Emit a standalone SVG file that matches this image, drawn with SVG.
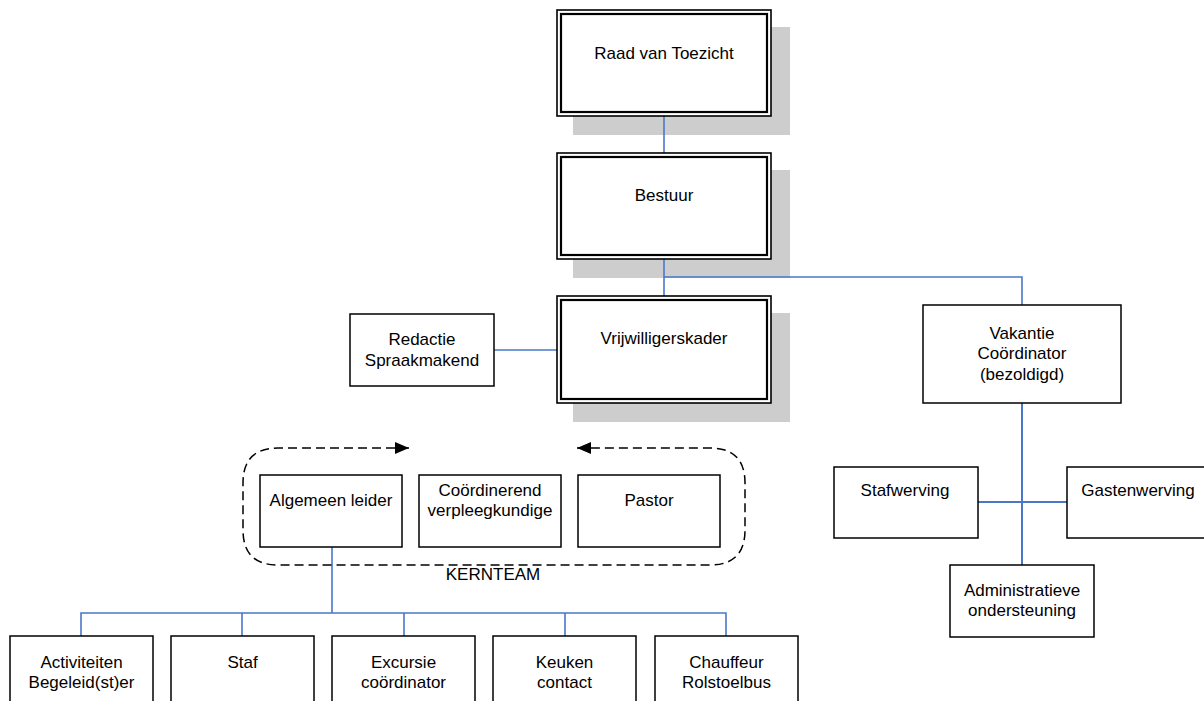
<svg xmlns="http://www.w3.org/2000/svg" width="1204" height="701" viewBox="0 0 1204 701">
<defs>
<style>
.sh{fill:#cdcdcd;stroke:none}
.o{fill:#fff;stroke:#000;stroke-width:1.6}
.i{fill:#fff;stroke:#000;stroke-width:2.2}
.b{fill:#fff;stroke:#000;stroke-width:1.5}
.t{font-family:"Liberation Sans",Arial,sans-serif;font-size:17px;fill:#000;text-anchor:middle}
.c{fill:none;stroke:#4a77c8;stroke-width:1.6}
.d{fill:none;stroke:#000;stroke-width:1.5;stroke-dasharray:9 5}
</style>
<marker id="ah" viewBox="0 0 14 12" refX="14" refY="6" markerWidth="14" markerHeight="12" markerUnits="userSpaceOnUse" orient="auto-start-reverse">
<path d="M0,0 L14,6 L0,12 z" fill="#000"/>
</marker>
</defs>
<rect width="1204" height="701" fill="#fff"/>

<g id="shadows">
<rect class="sh" x="573" y="27" width="217" height="108"/>
<rect class="sh" x="573" y="170" width="217" height="108"/>
<rect class="sh" x="573" y="313" width="217" height="109"/>
</g>

<g id="connectors">
<path class="c" d="M664 116 V153"/>
<path class="c" d="M664 259 V296"/>
<path class="c" d="M664 277 H1022 V305"/>
<path class="c" d="M494 350 H557"/>
<path class="c" d="M1022 403 V565" style="stroke-width:2"/>
<path class="c" d="M978 502 H1067" style="stroke-width:2"/>
<path class="c" d="M332 547 V613"/>
<path class="c" d="M81 636 V613 H726 V636"/>
<path class="c" d="M242 613 V636 M404 613 V636 M565 613 V636"/>
</g>

<g id="kernteam">
<path class="d" d="M409 448 H278 Q243 448 243 483 V530 Q243 565 278 565 H710 Q745 565 745 530 V483 Q745 448 710 448 H577" marker-start="url(#ah)" marker-end="url(#ah)"/>
<text class="t" x="493" y="580">KERNTEAM</text>
</g>

<g id="raad">
<rect class="o" x="557" y="10" width="214" height="106"/>
<rect class="i" x="561" y="14" width="206" height="98"/>
<text class="t" x="664" y="59">Raad van Toezicht</text>
</g>

<g id="bestuur">
<rect class="o" x="557" y="153" width="214" height="106"/>
<rect class="i" x="561" y="157" width="206" height="98"/>
<text class="t" x="664" y="201">Bestuur</text>
</g>

<g id="vrijwilligerskader">
<rect class="o" x="557" y="296" width="214" height="107"/>
<rect class="i" x="561" y="300" width="206" height="99"/>
<text class="t" x="664" y="344">Vrijwilligerskader</text>
</g>

<g id="redactie">
<rect class="b" x="350" y="314" width="144" height="72"/>
<text class="t" x="422" y="345">Redactie</text>
<text class="t" x="422" y="366">Spraakmakend</text>
</g>

<g id="vakantie">
<rect class="b" x="923" y="305" width="198" height="98"/>
<text class="t" x="1022" y="339">Vakantie</text>
<text class="t" x="1022" y="359">Coördinator</text>
<text class="t" x="1022" y="380">(bezoldigd)</text>
</g>

<g id="stafwerving">
<rect class="b" x="834" y="467" width="144" height="71"/>
<text class="t" x="905" y="496">Stafwerving</text>
</g>

<g id="gastenwerving">
<rect class="b" x="1067" y="467" width="144" height="71"/>
<text class="t" x="1138" y="496">Gastenwerving</text>
</g>

<g id="administratie">
<rect class="b" x="950" y="565" width="144" height="72"/>
<text class="t" x="1022" y="596">Administratieve</text>
<text class="t" x="1022" y="616">ondersteuning</text>
</g>

<g id="algemeen">
<rect class="b" x="260" y="475" width="142" height="72"/>
<text class="t" x="331" y="506">Algemeen leider</text>
</g>

<g id="verpleeg">
<rect class="b" x="419" y="475" width="142" height="72"/>
<text class="t" x="490" y="496">Coördinerend</text>
<text class="t" x="490" y="516">verpleegkundige</text>
</g>

<g id="pastor">
<rect class="b" x="578" y="475" width="142" height="72"/>
<text class="t" x="649" y="506">Pastor</text>
</g>

<g id="activiteiten">
<rect class="b" x="10" y="636" width="143" height="80"/>
<text class="t" x="81.5" y="668">Activiteiten</text>
<text class="t" x="81.5" y="688">Begeleid(st)er</text>
</g>

<g id="staf">
<rect class="b" x="171" y="636" width="143" height="80"/>
<text class="t" x="242.5" y="668">Staf</text>
</g>

<g id="excursie">
<rect class="b" x="332" y="636" width="143" height="80"/>
<text class="t" x="403.5" y="668">Excursie</text>
<text class="t" x="403.5" y="688">coördinator</text>
</g>

<g id="keuken">
<rect class="b" x="493" y="636" width="143" height="80"/>
<text class="t" x="564.5" y="668">Keuken</text>
<text class="t" x="564.5" y="688">contact</text>
</g>

<g id="chauffeur">
<rect class="b" x="655" y="636" width="143" height="80"/>
<text class="t" x="726.5" y="668">Chauffeur</text>
<text class="t" x="726.5" y="688">Rolstoelbus</text>
</g>
</svg>
